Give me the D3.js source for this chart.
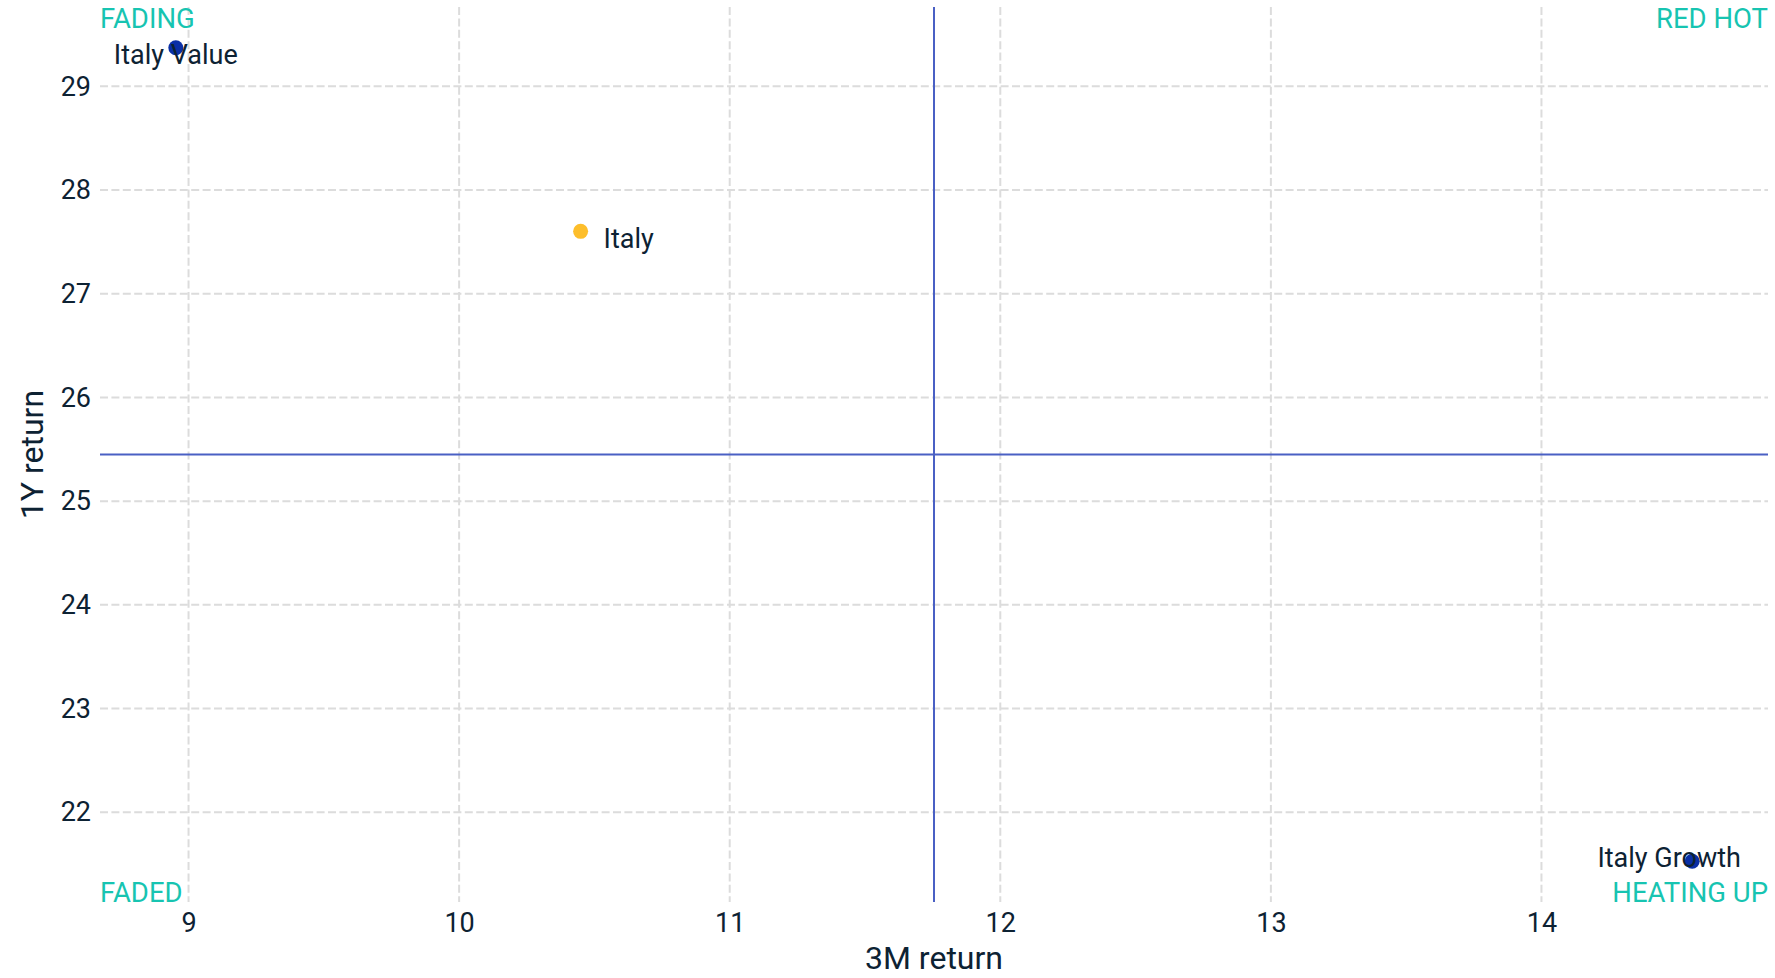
<!DOCTYPE html>
<html>
<head>
<meta charset="utf-8">
<script src="https://cdn.jsdelivr.net/npm/d3@7/dist/d3.min.js"></script>
<style>
  html, body { margin: 0; padding: 0; background: #ffffff; }
  svg { display: block; font-family: Roboto, "Noto Sans", sans-serif; }
</style>
</head>
<body>
<svg id="chart" width="1775" height="978"></svg>
<script>
// ---- Data ----
const names = ["Italy Value", "Italy", "Italy Growth"];
const ret3M = [8.953, 10.449, 14.557];
const ret1Y = [29.373, 27.602, 21.527];
const groups = ["style", "country", "style"];
const xTicks = [9, 10, 11, 12, 13, 14];
const yTicks = [22, 23, 24, 25, 26, 27, 28, 29];
const quadrantLabels = ["FADING", "RED HOT", "FADED", "HEATING UP"];

// ---- Layout / style config ----
const W = 1775, H = 978;
const margin = { top: 7, right: 7, bottom: 76, left: 100 };
const labelOffsets = [ [0, 16, "middle"], [23, 17, "start"], [-23, 6, "middle"] ];
const colors = { style: "#0a2fa6", country: "#fdbe2b" };
const textColor = "#0d2233";
const teal = "#17c4b1";
const quadColor = "#4a60c4";
const gridColor = "#dcdcdc";

const svg = d3.select("#chart");
const pw = W - margin.left - margin.right;
const ph = H - margin.top - margin.bottom;

function padded(vals) {
  const [a, b] = d3.extent(vals);
  const p = (b - a) * 0.05;
  return [a - p, b + p];
}
const xDom = padded(ret3M);
const yDom = padded(ret1Y);
const x = d3.scaleLinear().domain(xDom).range([margin.left, margin.left + pw]);
const y = d3.scaleLinear().domain(yDom).range([margin.top + ph, margin.top]);

// grid
const grid = svg.append("g");
grid.selectAll("line.gx").data(xTicks).join("line")
  .attr("x1", d => x(d)).attr("x2", d => x(d))
  .attr("y1", margin.top).attr("y2", margin.top + ph)
  .attr("stroke", gridColor).attr("stroke-width", 2).attr("stroke-dasharray", "8,3.4");
grid.selectAll("line.gy").data(yTicks).join("line")
  .attr("y1", d => y(d)).attr("y2", d => y(d))
  .attr("x1", margin.left).attr("x2", margin.left + pw)
  .attr("stroke", gridColor).attr("stroke-width", 2).attr("stroke-dasharray", "8,3.4");

// quadrant lines at domain centre
const xMid = (xDom[0] + xDom[1]) / 2;
const yMid = (yDom[0] + yDom[1]) / 2;
svg.append("line")
  .attr("x1", x(xMid)).attr("x2", x(xMid))
  .attr("y1", margin.top).attr("y2", margin.top + ph)
  .attr("stroke", quadColor).attr("stroke-width", 2);
svg.append("line")
  .attr("x1", margin.left).attr("x2", margin.left + pw)
  .attr("y1", y(yMid)).attr("y2", y(yMid))
  .attr("stroke", quadColor).attr("stroke-width", 2);

// axes tick labels
const xAxis = d3.axisBottom(x).tickValues(xTicks).tickSize(0).tickPadding(11).tickFormat(d3.format("d"));
const gx = svg.append("g").attr("transform", `translate(0,${margin.top + ph})`).call(xAxis);
gx.select(".domain").remove();
gx.selectAll("text").attr("font-size", 27).attr("fill", textColor).attr("font-family", "Roboto");

const yAxis = d3.axisLeft(y).tickValues(yTicks).tickSize(0).tickPadding(9).tickFormat(d3.format("d"));
const gy = svg.append("g").attr("transform", `translate(${margin.left},0)`).call(yAxis);
gy.select(".domain").remove();
gy.selectAll("text").attr("font-size", 27).attr("fill", textColor).attr("font-family", "Roboto");

// axis titles
svg.append("text")
  .attr("x", margin.left + pw / 2).attr("y", 969)
  .attr("text-anchor", "middle").attr("font-size", 32).attr("fill", textColor)
  .text("3M return");
svg.append("text")
  .attr("transform", `translate(43,${margin.top + ph / 2}) rotate(-90)`)
  .attr("text-anchor", "middle").attr("font-size", 32).attr("fill", textColor)
  .text("1Y return");

// points
const idx = d3.range(names.length);
svg.append("g").selectAll("circle").data(idx).join("circle")
  .attr("cx", i => x(ret3M[i])).attr("cy", i => y(ret1Y[i]))
  .attr("r", 7.5).attr("fill", i => colors[groups[i]]);

// point labels
svg.append("g").selectAll("text").data(idx).join("text")
  .attr("x", i => x(ret3M[i]) + labelOffsets[i][0])
  .attr("y", i => y(ret1Y[i]) + labelOffsets[i][1])
  .attr("text-anchor", i => labelOffsets[i][2])
  .attr("font-size", 27).attr("fill", textColor)
  .text(i => names[i]);

// quadrant labels
const qPos = [
  [margin.left, 28, "start"],
  [margin.left + pw, 28, "end"],
  [margin.left, margin.top + ph, "start"],
  [margin.left + pw, margin.top + ph, "end"]
];
svg.append("g").selectAll("text").data(quadrantLabels).join("text")
  .attr("x", (d, i) => qPos[i][0]).attr("y", (d, i) => qPos[i][1])
  .attr("text-anchor", (d, i) => qPos[i][2])
  .attr("font-size", 27.5).attr("fill", teal)
  .text(d => d);
</script>
</body>
</html>
